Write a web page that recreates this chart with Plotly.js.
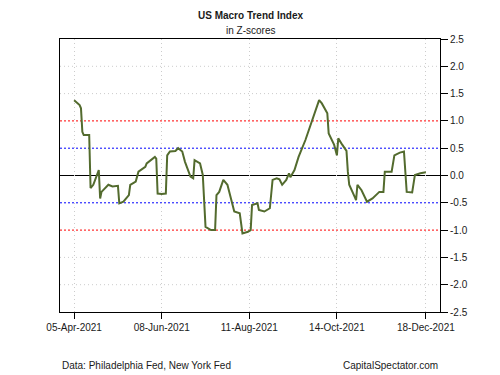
<!DOCTYPE html>
<html>
<head>
<meta charset="utf-8">
<script src="https://cdn.plot.ly/plotly-3.0.1.min.js"></script>
<style>html,body{margin:0;padding:0;background:#fff}#chart{width:500px;height:375px}</style>
</head>
<body>
<div id="chart"></div>
<script>
const dates = [
"2021-04-05","2021-04-09","2021-04-10","2021-04-11","2021-04-12","2021-04-16","2021-04-17","2021-04-19","2021-04-23","2021-04-24",
"2021-04-25","2021-04-28","2021-04-30","2021-05-03","2021-05-07","2021-05-08","2021-05-11","2021-05-15","2021-05-16","2021-05-20",
"2021-05-22","2021-05-27","2021-05-28","2021-06-03","2021-06-04","2021-06-05","2021-06-08","2021-06-11","2021-06-12","2021-06-14",
"2021-06-18","2021-06-20","2021-06-23","2021-06-25","2021-06-29","2021-07-01","2021-07-02","2021-07-06","2021-07-08","2021-07-10",
"2021-07-14","2021-07-17","2021-07-18","2021-07-20","2021-07-23","2021-07-26","2021-07-31","2021-08-04","2021-08-06","2021-08-10",
"2021-08-12","2021-08-13","2021-08-17","2021-08-18","2021-08-22","2021-08-26","2021-08-28","2021-08-31","2021-09-02","2021-09-04",
"2021-09-07","2021-09-09","2021-09-10","2021-09-13","2021-09-16","2021-09-21","2021-09-26","2021-10-01","2021-10-03","2021-10-07",
"2021-10-08","2021-10-12","2021-10-14","2021-10-15","2021-10-18","2021-10-21","2021-10-22","2021-10-23","2021-10-27","2021-10-28",
"2021-10-29","2021-11-01","2021-11-05","2021-11-09","2021-11-14","2021-11-17","2021-11-18","2021-11-23","2021-11-25","2021-11-29",
"2021-12-02","2021-12-03","2021-12-04","2021-12-08","2021-12-10","2021-12-14","2021-12-18"
];
const zscores = [
1.38,1.29,1.23,0.80,0.74,0.74,-0.23,-0.17,0.10,-0.42,
-0.30,-0.23,-0.17,-0.20,-0.19,-0.51,-0.48,-0.36,-0.17,-0.11,
0.07,0.16,0.22,0.34,0.31,-0.33,-0.34,-0.33,0.37,0.44,
0.45,0.50,0.44,0.25,-0.02,-0.05,0.28,0.22,0.01,-0.94,
-1.00,-1.00,-0.36,-0.30,-0.08,-0.17,-0.66,-0.69,-1.06,-1.03,
-1.00,-0.54,-0.51,-0.63,-0.66,-0.60,-0.08,-0.05,-0.07,-0.17,
-0.08,0.04,-0.03,0.10,0.34,0.65,1.01,1.38,1.32,1.14,
0.77,0.56,0.37,0.68,0.56,0.45,0.07,-0.17,-0.39,-0.45,
-0.17,-0.27,-0.48,-0.42,-0.30,-0.30,0.07,0.07,0.37,0.42,
0.44,0.04,-0.30,-0.31,0.01,0.04,0.06
];
const xTickVals = ["2021-04-05","2021-06-08","2021-08-11","2021-10-14","2021-12-18"];
const xTickText = ["05-Apr-2021","08-Jun-2021","11-Aug-2021","14-Oct-2021","18-Dec-2021"];
const yTickVals = [-2.5,-2.0,-1.5,-1.0,-0.5,0.0,0.5,1.0,1.5,2.0,2.5];
const yTickText = ["-2.5","-2.0","-1.5","-1.0","-0.5","0.0","0.5","1.0","1.5","2.0","2.5"];
const grayLevels = [-2.0,-1.5,1.5,2.0];
const redLevels = [-1.0,1.0];
const blueLevels = [-0.5,0.5];

const shapes = [];
grayLevels.forEach(v => shapes.push({type:'line',xref:'paper',yref:'y',x0:0,x1:1,y0:v,y1:v,layer:'below',line:{color:'#cccccc',width:1,dash:'1px,3px'}}));
redLevels.forEach(v => shapes.push({type:'line',xref:'paper',yref:'y',x0:0,x1:1,y0:v,y1:v,layer:'below',line:{color:'#ff0000',width:1,dash:'2px,2px'}}));
blueLevels.forEach(v => shapes.push({type:'line',xref:'paper',yref:'y',x0:0,x1:1,y0:v,y1:v,layer:'below',line:{color:'#0000ff',width:1,dash:'2px,2px'}}));
shapes.push({type:'line',xref:'paper',yref:'y',x0:0,x1:1,y0:0,y1:0,layer:'below',line:{color:'#000000',width:1}});

const font = {family:'"Liberation Sans", Arial, sans-serif', size:10, color:'#1a1a1a'};

const trace = {x:dates, y:zscores, type:'scatter', mode:'lines',
  line:{color:'#536b2e', width:2}, hoverinfo:'skip'};

const layout = {
  width:500, height:375,
  margin:{l:60, r:60, t:39, b:63},
  paper_bgcolor:'#ffffff', plot_bgcolor:'#ffffff',
  font:font,
  showlegend:false,
  xaxis:{type:'date', range:['2021-03-25 16:00','2021-12-28 08:00'],
    tickmode:'array', tickvals:xTickVals, ticktext:xTickText,
    ticks:'outside', ticklen:6, tickcolor:'#000', tickwidth:1,
    showgrid:true, gridcolor:'#cccccc', griddash:'1px,3px', gridwidth:1,
    showline:true, linecolor:'#000', linewidth:1, mirror:true,
    zeroline:false, tickfont:font, automargin:false},
  yaxis:{side:'right', range:[-2.5,2.5],
    tickmode:'array', tickvals:yTickVals, ticktext:yTickText,
    ticks:'outside', ticklen:7, tickcolor:'#000', tickwidth:1,
    showgrid:false, showline:true, linecolor:'#000', linewidth:1, mirror:true,
    zeroline:false, tickfont:font, automargin:false},
  shapes:shapes,
  annotations:[
    {text:'<b>US Macro Trend Index</b>', xref:'paper', yref:'paper', x:0.5, y:1, yshift:24, xanchor:'center', yanchor:'middle', showarrow:false, font:font},
    {text:'in Z-scores', xref:'paper', yref:'paper', x:0.5, y:1, yshift:9, xanchor:'center', yanchor:'middle', showarrow:false, font:font},
    {text:'Data: Philadelphia Fed, New York Fed', xref:'paper', yref:'paper', x:0, y:0, yshift:-53, xanchor:'left', yanchor:'middle', showarrow:false, font:font},
    {text:'CapitalSpectator.com', xref:'paper', yref:'paper', x:1, y:0, yshift:-53, xanchor:'right', yanchor:'middle', showarrow:false, font:font}
  ]
};

Plotly.newPlot('chart', [trace], layout, {displayModeBar:false, staticPlot:true});
</script>
</body>
</html>
